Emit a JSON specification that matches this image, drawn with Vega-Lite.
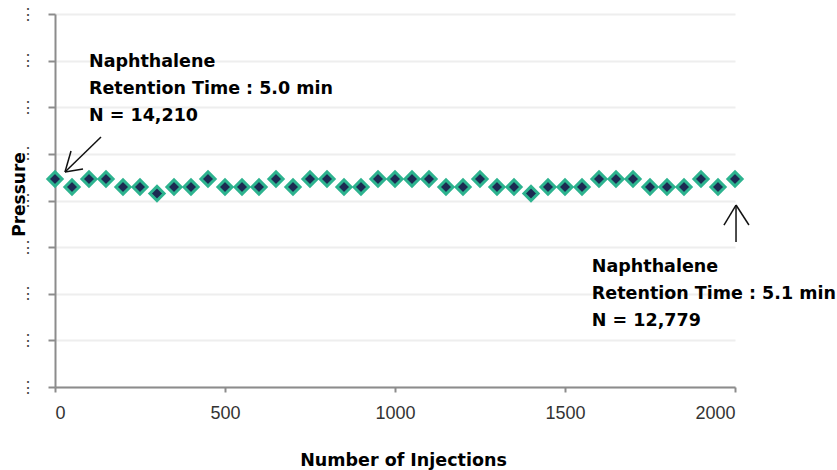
{
  "$schema": "https://vega.github.io/schema/vega-lite/v6.json",
  "width": 680,
  "height": 373,
  "autosize": "none",
  "padding": {"left": 55, "top": 14, "right": 102, "bottom": 83},
  "background": "white",
  "config": {"view": {"stroke": null}, "font": "Liberation Sans"},
  "encoding": {
    "x": {
      "field": "x", "type": "quantitative", "title": "Number of Injections",
      "scale": {"domain": [0, 2000], "nice": false, "zero": false},
      "axis": {
        "values": [0, 500, 1000, 1500, 2000], "format": "d", "grid": false,
        "domainColor": "#8c8c8c", "domainWidth": 2, "tickColor": "#8c8c8c", "tickWidth": 2, "tickSize": 5,
        "labelFont": "Liberation Sans", "labelFontSize": 18, "labelColor": "#333333", "labelPadding": 12,
        "titleFont": "DejaVu Sans", "titleFontSize": 17.5, "titleFontWeight": "bold", "titleColor": "#000000",
        "titleY": 78, "titleX": 348, "titleBaseline": "alphabetic"
      }
    },
    "y": {
      "field": "y", "type": "quantitative", "title": "Pressure",
      "scale": {"domain": [0, 8], "nice": false, "zero": false},
      "axis": {
        "values": [0, 1, 2, 3, 4, 5, 6, 7, 8], "grid": true, "gridColor": "#eeeeee", "gridWidth": 2,
        "domainColor": "#8c8c8c", "domainWidth": 2, "tickColor": "#8c8c8c", "tickWidth": 2, "tickSize": 7,
        "labelExpr": "'⋮'", "labelFontSize": 16, "labelColor": "#444444", "labelPadding": 13,
        "titleFont": "DejaVu Sans", "titleFontSize": 17, "titleFontWeight": "bold", "titleColor": "#000000",
        "titleAngle": -90, "titleX": -31, "titleY": 180, "titleBaseline": "alphabetic", "titleAlign": "center"
      }
    }
  },
  "layer": [
    {
      "data": {"values": [
        {"x": 0, "y": 4.46}, {"x": 50, "y": 4.29}, {"x": 100, "y": 4.46}, {"x": 150, "y": 4.46},
        {"x": 200, "y": 4.29}, {"x": 250, "y": 4.29}, {"x": 300, "y": 4.15}, {"x": 350, "y": 4.29},
        {"x": 400, "y": 4.29}, {"x": 450, "y": 4.46}, {"x": 500, "y": 4.29}, {"x": 550, "y": 4.29},
        {"x": 600, "y": 4.29}, {"x": 650, "y": 4.46}, {"x": 700, "y": 4.29}, {"x": 750, "y": 4.46},
        {"x": 800, "y": 4.46}, {"x": 850, "y": 4.29}, {"x": 900, "y": 4.29}, {"x": 950, "y": 4.46},
        {"x": 1000, "y": 4.46}, {"x": 1050, "y": 4.46}, {"x": 1100, "y": 4.46}, {"x": 1150, "y": 4.29},
        {"x": 1200, "y": 4.29}, {"x": 1250, "y": 4.46}, {"x": 1300, "y": 4.29}, {"x": 1350, "y": 4.29},
        {"x": 1400, "y": 4.15}, {"x": 1450, "y": 4.29}, {"x": 1500, "y": 4.29}, {"x": 1550, "y": 4.29},
        {"x": 1600, "y": 4.46}, {"x": 1650, "y": 4.46}, {"x": 1700, "y": 4.46}, {"x": 1750, "y": 4.29},
        {"x": 1800, "y": 4.29}, {"x": 1850, "y": 4.29}, {"x": 1900, "y": 4.46}, {"x": 1950, "y": 4.29},
        {"x": 2000, "y": 4.46}
      ]},
      "mark": {"type": "point", "shape": "diamond", "filled": true, "fill": "#1c2a52", "stroke": "#2db38f",
               "strokeWidth": 3, "size": 200, "opacity": 1, "clip": false}
    },
    {
      "data": {"values": [
        {"x": 135.3, "y": 5.362, "x2": 29.4, "y2": 4.611},
        {"x": 29.4, "y": 4.611, "x2": 47.1, "y2": 5.062},
        {"x": 29.4, "y": 4.611, "x2": 82.4, "y2": 4.676},
        {"x": 2003, "y": 3.11, "x2": 2003, "y2": 3.903},
        {"x": 2003, "y": 3.903, "x2": 1967.6, "y2": 3.474},
        {"x": 2003, "y": 3.903, "x2": 2041, "y2": 3.474}
      ]},
      "mark": {"type": "rule", "color": "#111111", "strokeWidth": 1.5, "clip": false},
      "encoding": {"x2": {"field": "x2"}, "y2": {"field": "y2"}}
    },
    {
      "data": {"values": [
        {"x": 100, "y": 6.863, "t": "Naphthalene"},
        {"x": 100, "y": 6.284, "t": "Retention Time : 5.0 min"},
        {"x": 100, "y": 5.705, "t": "N = 14,210"},
        {"x": 1579, "y": 2.466, "t": "Naphthalene"},
        {"x": 1579, "y": 1.888, "t": "Retention Time : 5.1 min"},
        {"x": 1579, "y": 1.309, "t": "N = 12,779"}
      ]},
      "mark": {"type": "text", "align": "left", "baseline": "alphabetic", "font": "DejaVu Sans",
               "fontSize": 17.5, "fontWeight": "bold", "color": "#000000", "clip": false},
      "encoding": {"text": {"field": "t", "type": "nominal"}}
    }
  ]
}
